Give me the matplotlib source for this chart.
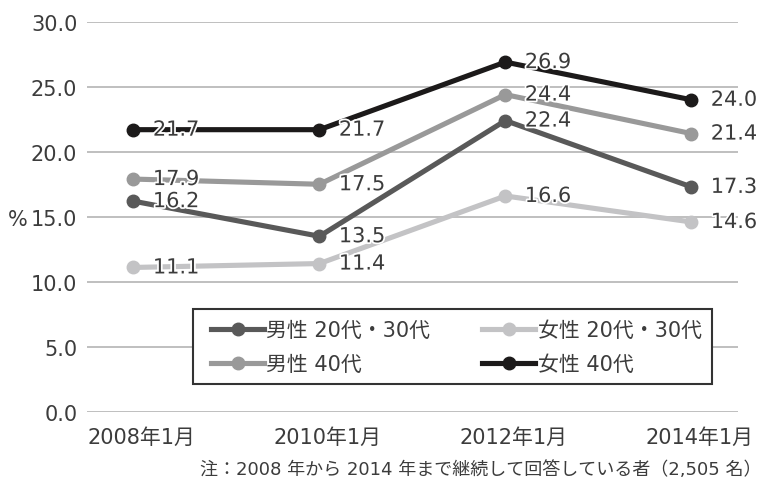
import matplotlib.pyplot as plt
import matplotlib.patheffects as pe
import matplotlib.transforms as mtrans
from matplotlib.patches import Rectangle

plt.rcParams['font.family'] = ['DejaVu Sans', 'Noto Sans CJK JP']

periods = ["2008年1月", "2010年1月", "2012年1月", "2014年1月"]
male_20_30 = [16.2, 13.5, 22.4, 17.3]
female_20_30 = [11.1, 11.4, 16.6, 14.6]
male_40 = [17.9, 17.5, 24.4, 21.4]
female_40 = [21.7, 21.7, 26.9, 24.0]
y_ticks = [0, 5, 10, 15, 20, 25, 30]
note = "注：2008 年から 2014 年まで継続して回答している者（2,505 名）"

series = [
    ("男性 20代・30代", male_20_30, "#595959"),
    ("男性 40代", male_40, "#999999"),
    ("女性 20代・30代", female_20_30, "#c3c3c5"),
    ("女性 40代", female_40, "#1c1a1a"),
]
txt_col = "#3c3c3c"
W, H = 763, 485

fig = plt.figure(figsize=(7.63, 4.85), dpi=100)
ax = fig.add_axes([0.114, 0.149, 0.853, 0.804])

x = list(range(len(periods)))
# lighter lines underneath, black on top
draw_order = [2, 1, 0, 3]
handles = {}
for i in draw_order:
    name, vals, col = series[i]
    ln, = ax.plot(x, vals, color=col, lw=3.7, marker="o", ms=9,
                  label=name, zorder=3 + i)
    handles[i] = ln

outline = [pe.withStroke(linewidth=2.5, foreground="white")]
for i in draw_order:
    name, vals, col = series[i]
    for xi, v in zip(x, vals):
        ax.annotate(f"{v:.1f}", (xi, v), xytext=(14, 0), textcoords="offset points",
                    ha="left", va="center", fontsize=15, color=txt_col,
                    path_effects=outline, zorder=10)

ax.set_xlim(-0.25, 3.25)
ax.set_ylim(0, 30)
ax.set_yticks(y_ticks)
ax.set_yticklabels([f"{t:.1f}" for t in y_ticks])
ax.set_xticks(x)
ax.set_xticklabels(periods)
ax.tick_params(axis="both", length=0, labelsize=15, labelcolor=txt_col)
ax.tick_params(axis="x", pad=11)
ax.tick_params(axis="y", pad=7)
shift = mtrans.ScaledTranslation(8 / 100, 0, fig.dpi_scale_trans)
for lab in ax.get_xticklabels():
    lab.set_transform(lab.get_transform() + shift)
ax.grid(axis="y", color="#b4b4b4", lw=1.2)
ax.set_axisbelow(True)
for s in ax.spines.values():
    s.set_visible(False)

fig.text(8 / W, 1 - 220 / H, "%", fontsize=15, color=txt_col, va="center", ha="left")

# legend box drawn separately so the inner padding can match
box = Rectangle((193 / W, 1 - 385 / H), (712 - 193) / W, 75 / H,
                transform=fig.transFigure, facecolor="white", edgecolor="#333333",
                lw=1.5, zorder=19)
fig.patches.append(box)

leg = fig.legend([handles[i] for i in range(4)], [s[0] for s in series],
                 ncol=2, loc="center left", bbox_to_anchor=(211 / W, 1 - 348 / H),
                 borderaxespad=0, borderpad=0, frameon=False, fontsize=15,
                 handlelength=2.55, columnspacing=2.5, handletextpad=0.1,
                 labelspacing=0.68, labelcolor=txt_col)
leg.set_zorder(20)

fig.text(761 / W, 1 - 470 / H, note, fontsize=13, color=txt_col, ha="right", va="center")

fig.savefig("out.png", dpi=100)
